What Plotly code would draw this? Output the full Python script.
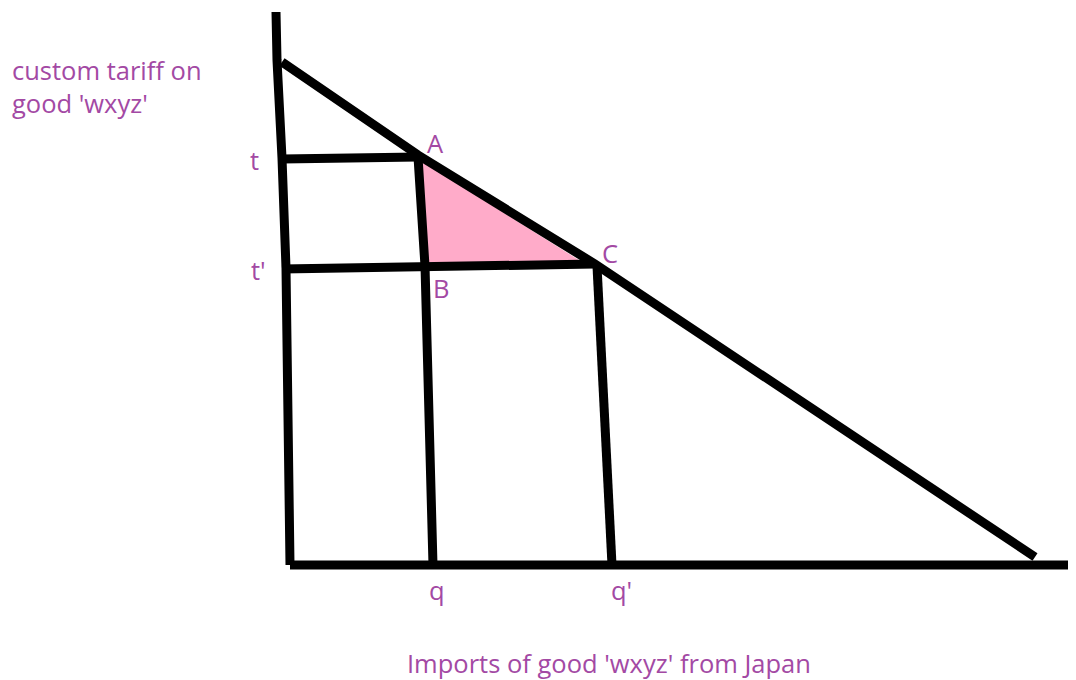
import plotly.graph_objects as go

# hand-drawn diagram, coordinates in picture pixels (y grows downward)
vaxis_x = [276, 277, 282, 286, 290]
vaxis_y = [12, 60, 158, 268, 565]
haxis_x = [290, 1090]
haxis_y = [565, 565]
demand_x = [282, 418, 595, 1035]
demand_y = [62, 155, 264, 557]
t_x = [282, 418]
t_y = [159, 157]
tp_x = [282, 595]
tp_y = [269, 264]
q_x = [418, 425, 433]
q_y = [157, 266, 565]
qp_x = [597, 612]
qp_y = [266, 565]
loss_x = [421, 426, 582, 421]
loss_y = [161, 262, 262, 161]

ink = "#000000"
pink = "#ffabc9"
purple = "#a349a4"
lw = 9
off = 8  # page body margin

fig = go.Figure()
fig.add_trace(go.Scatter(x=loss_x, y=loss_y, mode="lines", fill="toself",
                         fillcolor=pink, line=dict(width=0), hoverinfo="skip"))
for xs, ys in [(vaxis_x, vaxis_y), (haxis_x, haxis_y), (demand_x, demand_y),
               (t_x, t_y), (tp_x, tp_y), (q_x, q_y), (qp_x, qp_y)]:
    fig.add_trace(go.Scatter(x=xs, y=ys, mode="lines",
                             line=dict(color=ink, width=lw), hoverinfo="skip"))

labels = [
    ("custom tariff on", 10, 70, "left"),
    ("good 'wxyz'", 10, 103, "left"),
    ("t", 254, 160, "center"),
    ("t'", 258, 270, "center"),
    ("A", 435, 143, "center"),
    ("B", 441, 288, "center"),
    ("C", 610, 253, "center"),
    ("q", 437, 590, "center"),
    ("q'", 621, 590, "center"),
    ("Imports of good 'wxyz' from Japan", 609, 663, "center"),
]
for text, x, y, xa in labels:
    fig.add_annotation(x=x, y=y, text=text, showarrow=False, xanchor=xa,
                       yanchor="middle",
                       font=dict(family="Open Sans", size=25.5, color=purple))

fig.update_layout(
    width=1076 - off, height=680 - off, margin=dict(l=0, r=0, t=0, b=0),
    plot_bgcolor="white", paper_bgcolor="white", showlegend=False,
    xaxis=dict(range=[off, 1076], visible=False),
    yaxis=dict(range=[680, off], visible=False),
)
fig.write_html("out.html")
